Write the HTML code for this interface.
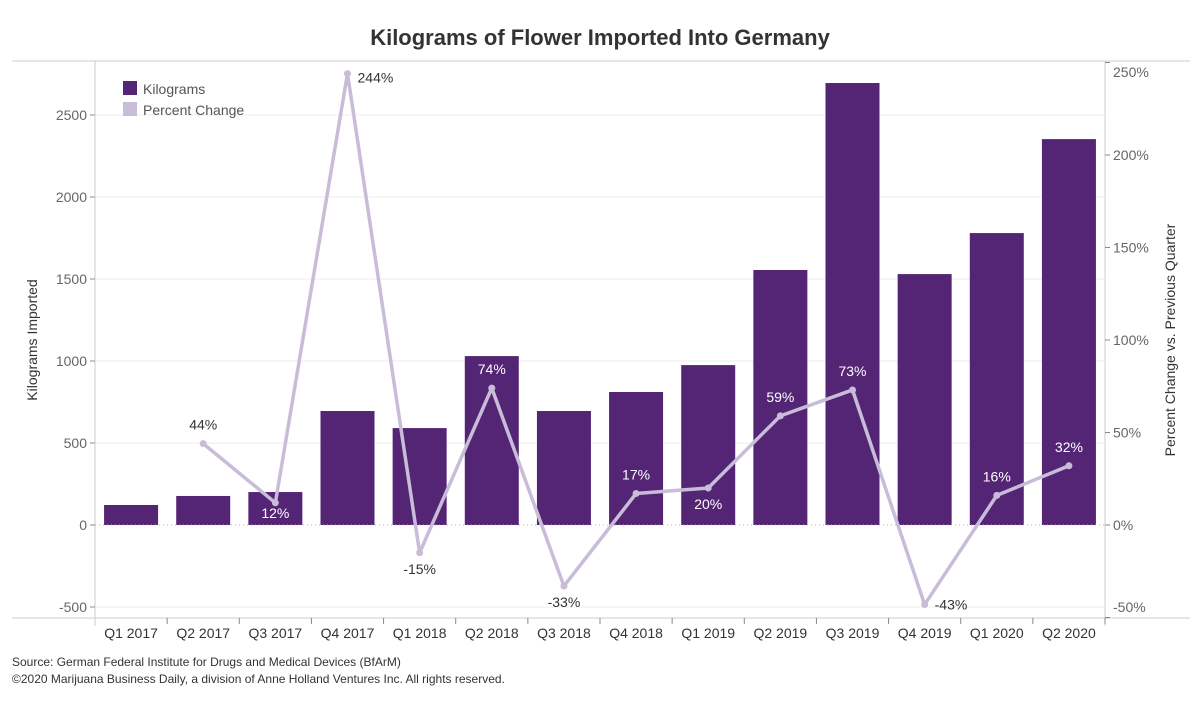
<!DOCTYPE html>
<html><head><meta charset="utf-8"><style>
body{margin:0;background:#fff;font-family:"Liberation Sans",sans-serif}
svg text{font-family:"Liberation Sans",sans-serif}
</style></head><body>
<svg id="c" width="1200" height="700">
<text x="600" y="45" text-anchor="middle" font-size="22" font-weight="bold" fill="#333">Kilograms of Flower Imported Into Germany</text>
<g id="g"></g>
<text x="12" y="666" font-size="12" fill="#333">Source: German Federal Institute for Drugs and Medical Devices (BfArM)</text>
<text x="12" y="683" font-size="12" fill="#333">©2020 Marijuana Business Daily, a division of Anne Holland Ventures Inc. All rights reserved.</text>
<g>
<rect x="123" y="81" width="14" height="14" fill="#532574"/>
<text x="143" y="94" font-size="14" fill="#555">Kilograms</text>
<rect x="123" y="102" width="14" height="14" fill="#c9bcd9"/>
<text x="143" y="115" font-size="14" fill="#555">Percent Change</text>
</g>
</svg>
<script>
const categories=["Q1 2017","Q2 2017","Q3 2017","Q4 2017","Q1 2018","Q2 2018","Q3 2018","Q4 2018","Q1 2019","Q2 2019","Q3 2019","Q4 2019","Q1 2020","Q2 2020"];
const kilograms=[122,177,201,695,591,1030,695,811,975,1555,2695,1530,1780,2353];
const pctChange=[null,44,12,244,-15,74,-33,17,20,59,73,-43,16,32];
const leftTicks=[-500,0,500,1000,1500,2000,2500];
const rightTicks=[-50,0,50,100,150,200,250];
const NS="http://www.w3.org/2000/svg";
const g=document.getElementById('g');
const L=95,R=1105,T=61,B=618;
const bw=(R-L)/categories.length;
const yK=v=>525-v*0.164;
const yP=v=>525-v*1.85;
const xC=i=>L+bw*(i+0.5);
function mk(t,a,txt){const e=document.createElementNS(NS,t);for(const k in a)e.setAttribute(k,a[k]);if(txt!=null)e.textContent=txt;g.appendChild(e);return e;}
let e;
e=mk('line',{x1:12,x2:1190,y1:T,y2:T,stroke:'#ccc'});

e=mk('line',{x1:12,x2:1190,y1:B,y2:B,stroke:'#ccc'});

e=mk('line',{x1:L,x2:L,y1:T,y2:B+8,stroke:'#ccc'});

e=mk('line',{x1:R,x2:R,y1:T,y2:B+8,stroke:'#ccc'});

leftTicks.forEach(v=>{const y=yK(v);
 if(v!==0){e=mk('line',{x1:L,x2:R,y1:y,y2:y,stroke:'#eee'});}
 e=mk('line',{x1:L-5,x2:L,y1:y,y2:y,stroke:'#888'});
 e=mk('text',{x:L-8,y:y+5,'text-anchor':'end','font-size':14,fill:'#666'},String(v));});
rightTicks.forEach(v=>{const y=yP(v);
 e=mk('line',{x1:R,x2:R+5,y1:y,y2:y,stroke:'#888'});
 const ly=Math.min(Math.max(y,T+11),B-11);
 e=mk('text',{x:R+8,y:ly+5,'font-size':14,fill:'#666'},v+'%');});
e=mk('text',{x:37,y:340,'text-anchor':'middle','font-size':14,fill:'#333',transform:'rotate(-90 37 340)'},'Kilograms Imported');

e=mk('text',{x:1175,y:340,'text-anchor':'middle','font-size':14,fill:'#333',transform:'rotate(-90 1175 340)'},'Percent Change vs. Previous Quarter');

categories.forEach((c,i)=>{
 e=mk('rect',{x:xC(i)-27,y:Math.min(yK(kilograms[i]),yK(0)),width:54,height:Math.abs(yK(0)-yK(kilograms[i])),fill:'#532574'});
 
 e=mk('line',{x1:L+bw*(i+1),x2:L+bw*(i+1),y1:B,y2:B+6,stroke:'#888'});
 e=mk('text',{x:xC(i),y:638,'text-anchor':'middle','font-size':14,fill:'#333'},c);
});
e=mk('line',{x1:L,x2:R,y1:yK(0),y2:yK(0),stroke:'#bbb','stroke-dasharray':'1 3'});

let pts=[];pctChange.forEach((p,i)=>{if(p!=null)pts.push(xC(i)+','+yP(p));});
e=mk('polyline',{points:pts.join(' '),fill:'none',stroke:'#c9bcd9','stroke-width':3.5,'stroke-linejoin':'round'});

pctChange.forEach((p,i)=>{if(p==null)return;const x=xC(i),y=yP(p);
 e=mk('circle',{cx:x,cy:y,r:3.5,fill:'#c9bcd9'});
 const prev=pctChange[i-1],next=pctChange[i+1];
 let lx=x,ly,anchor='middle';
 const onBar=yK(kilograms[i]);
 if(p>100){lx=x+10;ly=y+9;anchor='start';}
 else if(p<=-40){lx=x+10;ly=y+5;anchor='start';}
 else if((prev==null||p>prev)&&(next==null||p>next)||i===pctChange.length-1){ly=y-14;}
 else ly=y+21;
 if(p===17||p===16||p===59)ly=y-14;
 if(p===12)ly=y+15;
 const inside=ly>onBar+4&&ly<yK(0);
 e=mk('text',{x:lx,y:ly,'text-anchor':anchor,'font-size':14,fill:inside?'#fff':'#333'},p+'%');
 
});
</script>
</body></html>
